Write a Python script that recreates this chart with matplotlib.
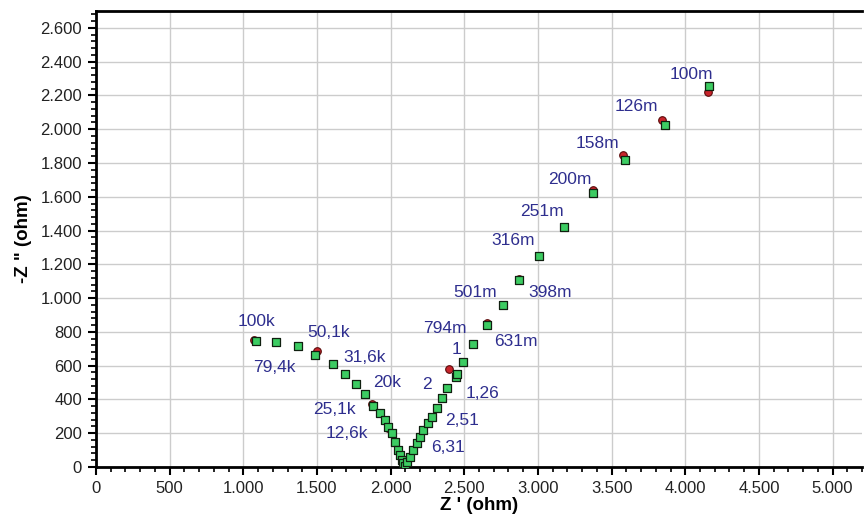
import numpy as np
import matplotlib
matplotlib.use("Agg")
import matplotlib.pyplot as plt
from matplotlib.ticker import MultipleLocator, FuncFormatter

# Nyquist data (ohm)
z_re_fit = [1085, 1221, 1370, 1486, 1608, 1689, 1764, 1825, 1879, 1927, 1961, 1981,
            2008, 2028, 2049, 2062, 2076, 2083, 2096, 2110, 2130, 2151, 2178, 2198,
            2218, 2252, 2279, 2313, 2347, 2381, 2442, 2452, 2490, 2557, 2652, 2761,
            2870, 3005, 3175, 3372, 3589, 3860, 4159]
z_im_fit = [746, 740, 717, 663, 610, 551, 492, 432, 361, 320, 278, 237,
            201, 148, 101, 71, 41, 24, 6, 30, 59, 101, 142, 178,
            219, 260, 296, 350, 409, 468, 533, 552, 622, 729, 841, 960,
            1108, 1250, 1422, 1623, 1819, 2026, 2257]

z_re_meas = [1072, 1221, 1370, 1499, 1608, 1689, 1764, 1825, 1872, 1927, 1961, 1981,
             2008, 2028, 2049, 2062, 2076, 2083, 2096, 2110, 2130, 2151, 2178, 2198,
             2218, 2252, 2279, 2313, 2347, 2395, 2442, 2452, 2490, 2557, 2652, 2761,
             2870, 3005, 3175, 3372, 3575, 3840, 4152]
z_im_meas = [752, 740, 717, 687, 610, 551, 492, 432, 373, 320, 278, 231,
             201, 148, 101, 71, 41, 24, 6, 30, 59, 101, 142, 178,
             219, 260, 296, 350, 409, 580, 533, 552, 622, 729, 852, 960,
             1115, 1250, 1422, 1640, 1848, 2056, 2221]

# frequency labels and where they sit
freq_labels = ["100k", "79,4k", "50,1k", "31,6k", "20k", "25,1k", "12,6k",
               "2", "1,26", "2,51", "6,31", "1", "794m", "631m", "501m", "398m",
               "316m", "251m", "200m", "158m", "126m", "100m"]
label_x = [1092, 1208, 1581, 1825, 1974, 1621, 1705, 2245, 2627, 2484, 2387, 2449,
           2368, 2849, 2571, 3080, 2829, 3026, 3216, 3406, 3670, 4043]
label_y = [859, 587, 794, 646, 498, 338, 201, 486, 438, 278, 113, 693,
           823, 746, 1031, 1031, 1339, 1511, 1700, 1913, 2133, 2322]

plt.rcParams['font.family'] = ['Liberation Sans', 'DejaVu Sans']

fig = plt.figure(figsize=(8.64, 5.24), dpi=100)
ax = fig.add_axes([96 / 864, 57 / 524, 766 / 864, 456 / 524])

ax.scatter(z_re_meas, z_im_meas, s=30, marker='o', color='#c8242b',
           edgecolors='#5a0a0a', linewidths=0.8, zorder=3)
ax.scatter(z_re_fit, z_im_fit, s=30, marker='s', color='#3ccc62',
           edgecolors='#102010', linewidths=0.9, zorder=4)

for t, x, y in zip(freq_labels, label_x, label_y):
    ax.text(x, y, t, color='#2e2e8e', fontsize=12.5, ha='center', va='center',
            zorder=5)

ax.set_xlim(0, 5200)
ax.set_ylim(0, 2700)
ax.xaxis.set_major_locator(MultipleLocator(500))
ax.xaxis.set_minor_locator(MultipleLocator(100))
ax.yaxis.set_major_locator(MultipleLocator(200))
ax.yaxis.set_minor_locator(MultipleLocator(40))

fmt = FuncFormatter(lambda v, p: f"{int(v):,}".replace(",", "."))
ax.xaxis.set_major_formatter(fmt)
ax.yaxis.set_major_formatter(fmt)

ax.grid(True, which='major', color='#cccccc', linewidth=1.0, zorder=0)
ax.set_axisbelow(True)

for s in ['left', 'bottom', 'top']:
    ax.spines[s].set_linewidth(2.0)
    ax.spines[s].set_color('black')
ax.spines['right'].set_visible(False)

ax.tick_params(which='major', direction='out', length=6, width=1.5,
               labelsize=12, colors='black', pad=4)
ax.tick_params(which='minor', direction='out', length=3.5, width=1.2)
for lab in ax.get_xticklabels() + ax.get_yticklabels():
    lab.set_color('#222222')

ax.set_xlabel("Z ' (ohm)", fontsize=13.5, fontweight='bold', labelpad=1)
ax.set_ylabel('-Z " (ohm)', fontsize=13.5, fontweight='bold', labelpad=6)

plt.savefig("out.png", dpi=100)
